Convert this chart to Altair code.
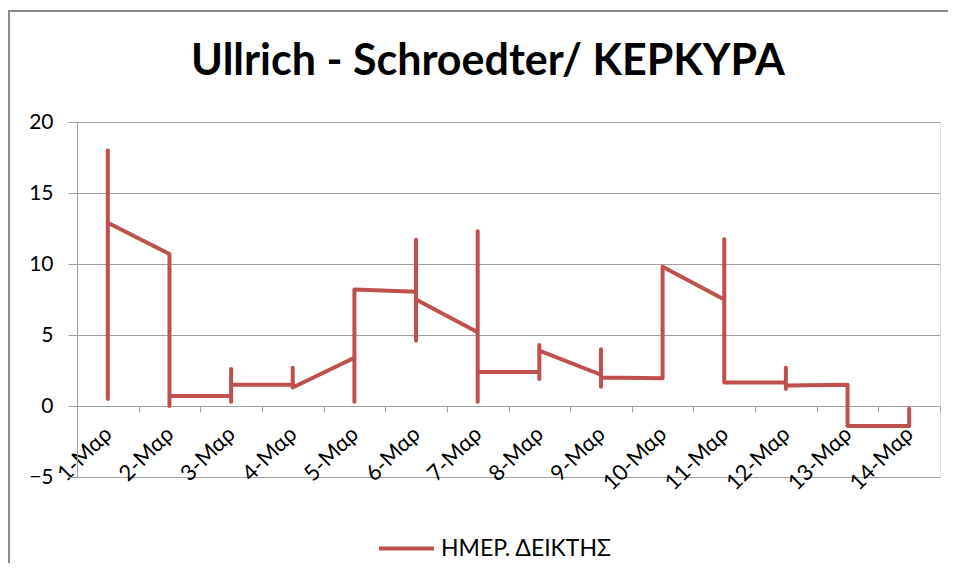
import altair as alt
import pandas as pd

# ---- data ----
date_labels = ["1-Μαρ", "2-Μαρ", "3-Μαρ", "4-Μαρ", "5-Μαρ", "6-Μαρ", "7-Μαρ",
               "8-Μαρ", "9-Μαρ", "10-Μαρ", "11-Μαρ", "12-Μαρ", "13-Μαρ", "14-Μαρ"]
# several readings per day, in order (Excel plots same-day points at one x)
day_values = [
    [0.5, 18.0, 12.9],
    [10.7, 0.0, 0.7],
    [0.7, 0.3, 2.6, 1.5],
    [1.5, 2.7, 1.3],
    [3.4, 0.3, 8.2],
    [8.05, 11.7, 4.6, 7.5],
    [5.2, 12.3, 0.3, 2.4],
    [2.4, 1.9, 4.3, 3.9],
    [2.2, 4.0, 1.35, 2.0],
    [1.95, 9.8],
    [7.5, 11.75, 1.65],
    [1.65, 2.7, 1.2, 1.45],
    [1.5, -1.4],
    [-1.4, -0.2],
]
series_name = "ΗΜΕΡ. ΔΕΙΚΤΗΣ"
y_ticks = [-5, 0, 5, 10, 15, 20]
title_text = "Ullrich - Schroedter/ ΚΕΡΚΥΡΑ"

rows = []
seq = 0
for i, vals in enumerate(day_values):
    for v in vals:
        rows.append({"day": i + 1, "value": v, "seq": seq, "series": series_name})
        seq += 1
df = pd.DataFrame(rows)

n = len(date_labels)
FONT = "Lato, 'Open Sans', sans-serif"
GRID = "#A0A0A0"
RED = "#C0504D"
W, H = 863, 355
cat_w = W / n
labels_js = "[" + ",".join("'" + s + "'" for s in date_labels) + "]"

x_axis = alt.Axis(
    values=[i + 0.5 for i in range(n + 1)],
    labelExpr=f"datum.value < {n} ? {labels_js}[floor(datum.value)] : ''",
    labelOffset=cat_w / 2,
    labelAngle=-45,
    labelAlign="right",
    labelBaseline="middle",
    labelPadding=18,
    labelOverlap=False,
    labelBound=False,
    labelFlush=False,
    labelFont=FONT,
    labelFontSize=22,
    labelColor="#000000",
    offset=-71,
    grid=False,
    ticks=True,
    tickSize=6,
    tickColor=GRID,
    domainColor=GRID,
    title=None,
)

y_axis = alt.Axis(
    values=y_ticks,
    grid=True,
    gridColor=GRID,
    tickColor=GRID,
    tickSize=9,
    domainColor=GRID,
    labelFont=FONT,
    labelFontSize=21,
    labelColor="#000000",
    labelPadding=15,
    title=None,
)

line = alt.Chart(df).mark_line(strokeWidth=4, strokeCap="round", strokeJoin="round").encode(
    x=alt.X("day:Q", scale=alt.Scale(domain=[0.5, n + 0.5], nice=False, zero=False), axis=x_axis),
    y=alt.Y("value:Q", scale=alt.Scale(domain=[-5, 20], nice=False), axis=y_axis),
    order="seq:Q",
    color=alt.Color(
        "series:N",
        scale=alt.Scale(range=[RED]),
        legend=alt.Legend(
            title=None,
            orient="none",
            legendX=300,
            legendY=397,
            symbolType="stroke",
            symbolSize=3025,
            symbolStrokeWidth=4,
            labelFont=FONT,
            labelFontSize=23,
            labelColor="#000000",
            labelOffset=5,
            labelLimit=500,
            padding=0,
        ),
    ),
)

one = pd.DataFrame({"a": [0]})
border = alt.Chart(one).mark_rect(
    fill=None, stroke="#8C8C8C", strokeWidth=2
).encode(
    x=alt.value(-68), x2=alt.value(W + 60), y=alt.value(-111), y2=alt.value(H + 140)
)

title = alt.Chart(one).mark_text(
    text=title_text, font=FONT, fontSize=43, fontWeight="bold", color="#000000",
    align="center", baseline="alphabetic",
).encode(x=alt.value(411), y=alt.value(-47))

chart = alt.layer(border, title, line).properties(
    width=W,
    height=H,
    autosize=alt.AutoSizeParams(type="none"),
    padding={"left": 69, "top": 114, "right": 8, "bottom": 86},
).configure_view(stroke=None).configure(background="white")

chart.save("out.html", embed_options={"renderer": "svg", "actions": False})
